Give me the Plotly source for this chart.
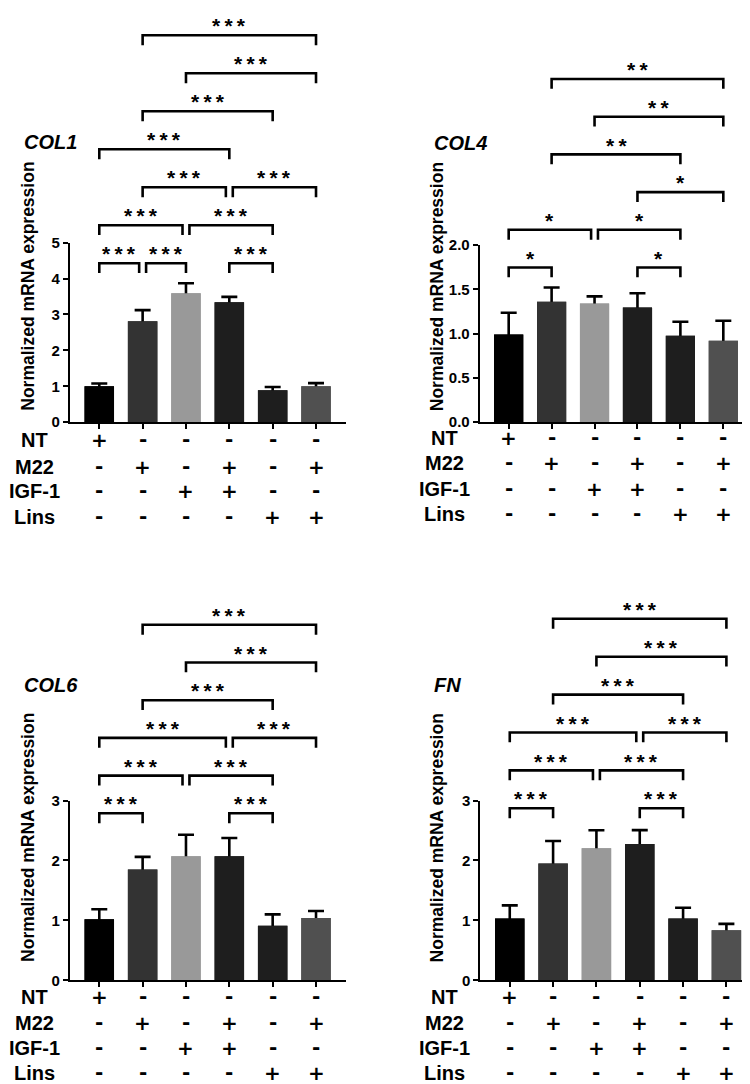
import plotly.graph_objects as go

W, H = 750, 1084

# ---------------- data ----------------
groups = ["NT", "M22", "IGF-1", "M22+IGF-1", "Lins", "M22+Lins"]
bar_colors = ["#000000", "#333333", "#999999", "#1e1e1e", "#1e1e1e", "#505050"]

col1_mean = [1.00, 2.81, 3.59, 3.34, 0.89, 1.00]
col1_sem = [0.08, 0.31, 0.28, 0.15, 0.09, 0.09]
col4_mean = [0.99, 1.36, 1.34, 1.295, 0.976, 0.92]
col4_sem = [0.245, 0.16, 0.08, 0.16, 0.158, 0.225]
col6_mean = [1.02, 1.85, 2.07, 2.07, 0.91, 1.04]
col6_sem = [0.165, 0.21, 0.36, 0.305, 0.19, 0.117]
fn_mean = [1.03, 1.95, 2.205, 2.276, 1.03, 0.834]
fn_sem = [0.22, 0.375, 0.30, 0.23, 0.18, 0.109]

# treatment table rows
row_names = ["NT", "M22", "IGF-1", "Lins"]
row_nt = ["+", "-", "-", "-", "-", "-"]
row_m22 = ["-", "+", "-", "+", "-", "+"]
row_igf = ["-", "-", "+", "+", "-", "-"]
row_lins = ["-", "-", "-", "-", "+", "+"]

# significance brackets: (group i, group j, level, label)
col1_sig = [(0, 1, 0, "***"), (1, 2, 0, "***"), (3, 4, 0, "***"),
            (0, 2, 1, "***"), (2, 4, 1, "***"),
            (1, 3, 2, "***"), (3, 5, 2, "***"),
            (0, 3, 3, "***"), (1, 4, 4, "***"), (2, 5, 5, "***"), (1, 5, 6, "***")]
col4_sig = [(0, 1, 0, "*"), (3, 4, 0, "*"),
            (0, 2, 1, "*"), (2, 4, 1, "*"),
            (3, 5, 2, "*"), (1, 4, 3, "**"), (2, 5, 4, "**"), (1, 5, 5, "**")]
col6_sig = [(0, 1, 0, "***"), (3, 4, 0, "***"),
            (0, 2, 1, "***"), (2, 4, 1, "***"),
            (0, 3, 2, "***"), (3, 5, 2, "***"),
            (1, 4, 3, "***"), (2, 5, 4, "***"), (1, 5, 5, "***")]
fn_sig = [(0, 1, 0, "***"), (3, 4, 0, "***"),
          (0, 2, 1, "***"), (2, 4, 1, "***"),
          (0, 3, 2, "***"), (3, 5, 2, "***"),
          (1, 4, 3, "***"), (2, 5, 4, "***"), (1, 5, 5, "***")]

titles = ["COL1", "COL4", "COL6", "FN"]
y_ticks_max = [5, 2.0, 3, 3]
y_dticks = [1, 0.5, 1, 1]
y_formats = ["d", ".1f", "d", "d"]

# ---------------- layout (pixel geometry) ----------------
FONT = "Liberation Sans, Arial, Helvetica, sans-serif"
SYMFONT = "DejaVu Sans, Liberation Sans, sans-serif"
panels = [
    dict(mean=col1_mean, sem=col1_sem, sig=col1_sig,
         xpx=(61.8, 337.5), ypx=(229.2, 411.7), xr=(-0.68, 5.68),
         base=250.2, step=38.6, title=(15, 126.8), ytitle=(20, 274),
         rowx=27, rows=[430, 457, 482, 507.5]),
    dict(mean=col4_mean, sem=col4_sem, sig=col4_sig,
         xpx=(471.7, 744.3), ypx=(231.6, 411.7), xr=(-0.675, 5.675),
         base=254.5, step=38.3, title=(425, 128.4), ytitle=(428.5, 274),
         rowx=436.5, rows=[427.5, 453.5, 479.5, 505]),
    dict(mean=col6_mean, sem=col6_sem, sig=col6_sig,
         xpx=(61.8, 337.5), ypx=(796, 978.7), xr=(-0.68, 5.68),
         base=809, step=38.3, title=(15, 678.6), ytitle=(20, 834),
         rowx=27, rows=[996, 1022.5, 1047.5, 1072.5]),
    dict(mean=fn_mean, sem=fn_sem, sig=fn_sig,
         xpx=(472.3, 748.3), ypx=(796, 978.7), xr=(-0.68, 5.69),
         base=803.9, step=38.5, title=(425, 678.6), ytitle=(428.5, 834),
         rowx=436.5, rows=[996, 1022.5, 1047.5, 1072.5]),
]
table_rows = [row_nt, row_m22, row_igf, row_lins]


def px2x(px):
    return px / W


def py2y(py):
    return 1 - py / H


fig = go.Figure()
shapes = []
annotations = []
xs = list(range(len(groups)))
NUDGE = 0.08
LEG = 10  # px

for k, p in enumerate(panels):
    n = "" if k == 0 else str(k + 1)
    xa, ya = "x" + n, "y" + n
    # bars with error bars (upper part visible), overlaid by clean bars
    fig.add_trace(go.Bar(
        x=xs, y=p["mean"], width=0.68, xaxis=xa, yaxis=ya,
        marker=dict(color=bar_colors, line=dict(width=0)),
        error_y=dict(type="data", array=p["sem"], symmetric=True,
                     color="black", thickness=2.6, width=8),
        hoverinfo="skip", showlegend=False))
    fig.add_trace(go.Bar(
        x=xs, y=p["mean"], width=0.68, xaxis=xa, yaxis=ya,
        marker=dict(color=bar_colors, line=dict(width=0)),
        hoverinfo="skip", showlegend=False))

    fig.update_layout(**{
        "xaxis" + n: dict(
            domain=[px2x(p["xpx"][0]), px2x(p["xpx"][1])], range=list(p["xr"]),
            anchor=ya, showline=True, linecolor="black", linewidth=2,
            ticks="outside", ticklen=5, tickwidth=1.8, tickcolor="black",
            tickvals=xs, showticklabels=False, showgrid=False, zeroline=False,
            fixedrange=True),
        "yaxis" + n: dict(
            domain=[py2y(p["ypx"][1]), py2y(p["ypx"][0])],
            range=[0, y_ticks_max[k]], anchor=xa,
            tickmode="linear", tick0=0, dtick=y_dticks[k], tickformat=y_formats[k],
            showline=True, linecolor="black", linewidth=2,
            ticks="outside", ticklen=5, tickwidth=1.8, tickcolor="black",
            tickfont=dict(family=FONT, size=15, color="black", weight="bold"),
            showgrid=False, zeroline=False, fixedrange=True),
    })

    # significance brackets
    ends = {}
    for (i, j, lev, lab) in p["sig"]:
        ends.setdefault(lev, []).append((i, j))
    for (i, j, lev, lab) in p["sig"]:
        same = ends[lev]
        x0 = i + (NUDGE if any(b == i for (a, b) in same) else 0)
        x1 = j - (NUDGE if any(a == j for (a, b) in same) else 0)
        yl = p["base"] - lev * p["step"]
        shapes.append(dict(
            type="path", xref=xa, yref="paper",
            path=f"M {x0},{py2y(yl + LEG)} L {x0},{py2y(yl)} L {x1},{py2y(yl)} L {x1},{py2y(yl + LEG)}",
            line=dict(color="black", width=2.6)))
        annotations.append(dict(
            x=(x0 + x1) / 2, y=py2y(yl - 9.5), xref=xa, yref="paper",
            text="<b>" + "\u2009".join(lab) + "</b>", showarrow=False,
            xanchor="center", yanchor="middle", borderpad=0,
            font=dict(family=FONT, size=21, color="black")))

    # panel title
    annotations.append(dict(
        x=px2x(p["title"][0]), y=py2y(p["title"][1]), xref="paper", yref="paper",
        text="<b><i>" + titles[k] + "</i></b>", showarrow=False,
        xanchor="left", yanchor="middle", borderpad=0,
        font=dict(family=FONT, size=20, color="black")))
    # y-axis title
    annotations.append(dict(
        x=px2x(p["ytitle"][0]), y=py2y(p["ytitle"][1]), xref="paper", yref="paper",
        text="<b>Normalized mRNA expression</b>", showarrow=False, textangle=-90,
        xanchor="center", yanchor="middle", borderpad=0,
        font=dict(family=FONT, size=17.5, color="black")))
    # treatment table
    for r, (rname, rvals) in enumerate(zip(row_names, table_rows)):
        ry = p["rows"][r]
        annotations.append(dict(
            x=px2x(p["rowx"]), y=py2y(ry), xref="paper", yref="paper",
            text="<b>" + rname + "</b>", showarrow=False,
            xanchor="center", yanchor="middle", borderpad=0,
            font=dict(family=FONT, size=20, color="black")))
        for c, v in enumerate(rvals):
            plus = v == "+"
            annotations.append(dict(
                x=xs[c], y=py2y(ry + (0 if plus else -1)), xref=xa, yref="paper",
                text="<b>" + v + "</b>", showarrow=False,
                xanchor="center", yanchor="middle", borderpad=0,
                font=dict(family=SYMFONT, size=20, color="black")))

fig.update_layout(
    width=W, height=H, margin=dict(l=0, r=0, t=0, b=0),
    paper_bgcolor="white", plot_bgcolor="white",
    barmode="overlay", showlegend=False,
    shapes=shapes, annotations=annotations,
    font=dict(family=FONT, color="black"),
)

fig.write_html("out.html")
